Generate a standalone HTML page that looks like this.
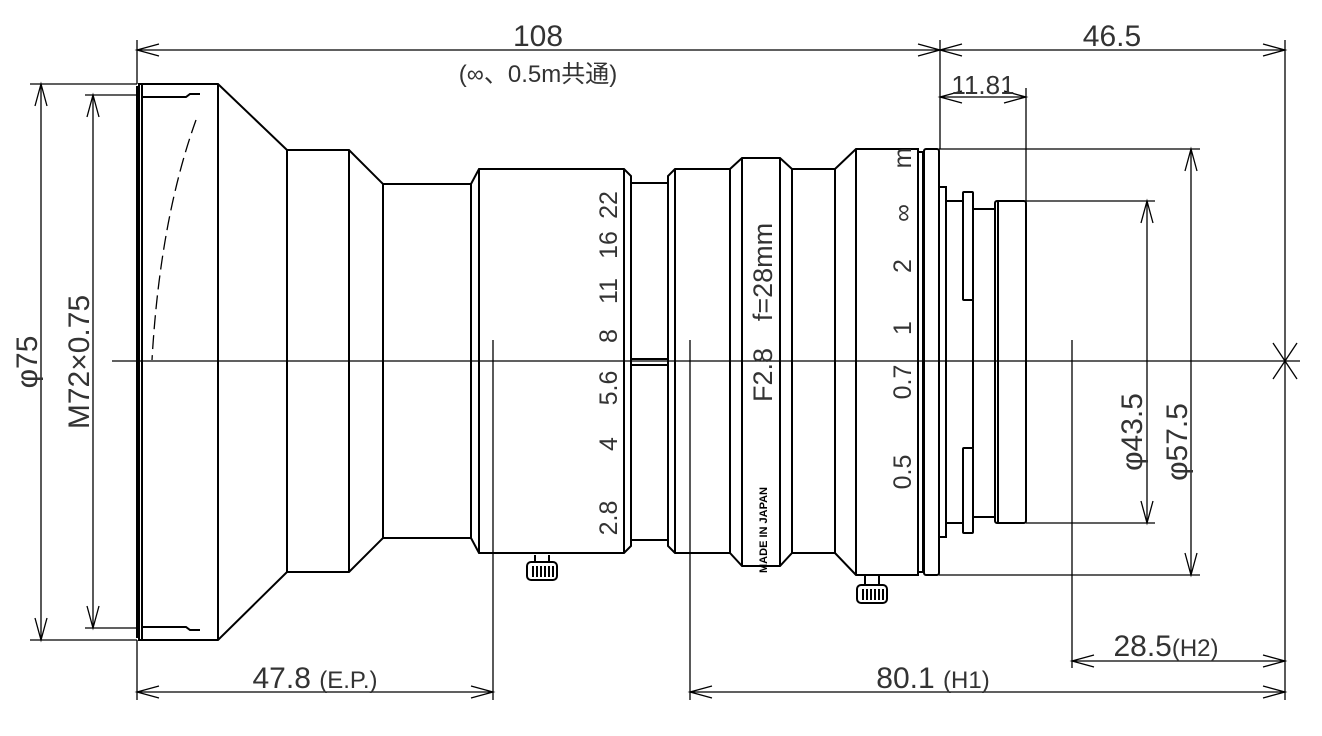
<!DOCTYPE html>
<html><head><meta charset="utf-8"><style>
html,body{margin:0;padding:0;background:#fff;}
svg{display:block}
text{font-family:"Liberation Sans","Noto Sans CJK JP",sans-serif;fill:#333;}
</style></head><body>
<svg width="1322" height="736" viewBox="0 0 1322 736" xmlns="http://www.w3.org/2000/svg">
<g fill="none" stroke="#000" stroke-width="1.3">
<!-- axis -->
<line x1="112" y1="361" x2="1300" y2="361"/>
<!-- dimension lines -->
<line x1="137" y1="50" x2="1285" y2="50"/>
<line x1="137" y1="40" x2="137" y2="84"/>
<line x1="940" y1="40" x2="940" y2="149"/>
<line x1="1285" y1="40" x2="1285" y2="700"/>
<line x1="940" y1="97" x2="1026" y2="97"/>
<line x1="1026" y1="88" x2="1026" y2="201"/>
<line x1="30" y1="84" x2="137" y2="84"/>
<line x1="30" y1="640" x2="137" y2="640"/>
<line x1="41" y1="84" x2="41" y2="640"/>
<line x1="85" y1="95" x2="137" y2="95"/>
<line x1="85" y1="628" x2="137" y2="628"/>
<line x1="93" y1="95" x2="93" y2="628"/>
<line x1="939" y1="149" x2="1200" y2="149"/>
<line x1="939" y1="575" x2="1200" y2="575"/>
<line x1="1191" y1="149" x2="1191" y2="575"/>
<line x1="1026" y1="201" x2="1155" y2="201"/>
<line x1="1026" y1="523" x2="1155" y2="523"/>
<line x1="1147" y1="201" x2="1147" y2="523"/>
<line x1="137" y1="640" x2="137" y2="700"/>
<line x1="137" y1="692" x2="493" y2="692"/>
<line x1="493" y1="340" x2="493" y2="700"/>
<line x1="690" y1="340" x2="690" y2="700"/>
<line x1="690" y1="692" x2="1285" y2="692"/>
<line x1="1072" y1="340" x2="1072" y2="668"/>
<line x1="1072" y1="661" x2="1285" y2="661"/>
<line x1="1273" y1="343" x2="1297" y2="379"/>
<line x1="1297" y1="343" x2="1273" y2="379"/>
<!-- arrowheads -->
<path d="M159 44 L137 50 L159 56 M918 44 L940 50 L918 56 M962 44 L940 50 L962 56 M1263 44 L1285 50 L1263 56"/>
<path d="M962 91 L940 97 L962 103 M1004 91 L1026 97 L1004 103"/>
<path d="M35 106 L41 84 L47 106 M35 618 L41 640 L47 618 M87 117 L93 95 L99 117 M87 606 L93 628 L99 606"/>
<path d="M1185 171 L1191 149 L1197 171 M1185 553 L1191 575 L1197 553 M1141 223 L1147 201 L1153 223 M1141 501 L1147 523 L1153 501"/>
<path d="M159 686 L137 692 L159 698 M471 686 L493 692 L471 698 M712 686 L690 692 L712 698 M1263 686 L1285 692 L1263 698 M1094 655 L1072 661 L1094 667 M1263 655 L1285 661 L1263 667"/>
</g>
<g fill="none" stroke="#000" stroke-width="2">
<!-- hood -->
<path d="M139 84 L218 84 L287 150 L349 150 L383 184 L471 184 L479 169 L624 169 L631 176 L631 183 L668 183 L668 176 L675 169 L730 169 L742 158 L780 158 L792 169 L835 169 L856 149 L918 149 L918 575 L856 575 L835 553 L792 553 L780 566 L742 566 L730 553 L675 553 L668 546 L668 540 L631 540 L631 546 L624 553 L479 553 L471 538 L383 538 L349 572 L287 572 L218 640 L139 640 Z"/>
<path d="M137 86 L137 638 M142 84 L142 640"/>
<path d="M142 97 L186 97 L190 94 L200 94 M142 627 L186 627 L190 630 L200 630"/>
<line x1="218" y1="84" x2="218" y2="640"/>
<line x1="287" y1="150" x2="287" y2="572"/>
<line x1="349" y1="150" x2="349" y2="572"/>
<line x1="383" y1="184" x2="383" y2="538"/>
<line x1="471" y1="184" x2="471" y2="538"/>
<line x1="479" y1="169" x2="479" y2="553"/>
<line x1="624" y1="169" x2="624" y2="553"/>
<line x1="631" y1="183" x2="631" y2="540"/>
<line x1="668" y1="183" x2="668" y2="540"/>
<line x1="675" y1="169" x2="675" y2="553"/>
<line x1="730" y1="169" x2="730" y2="553"/>
<line x1="742" y1="158" x2="742" y2="566"/>
<line x1="780" y1="158" x2="780" y2="566"/>
<line x1="792" y1="169" x2="792" y2="553"/>
<line x1="835" y1="169" x2="835" y2="553"/>
<line x1="856" y1="149" x2="856" y2="575"/>
<path d="M631 359 L668 359 M631 365 L668 365"/>
<!-- mount side -->
<path d="M918 152 L923 152 L923 572 L918 572"/>
<rect x="924" y="149" width="15" height="426" rx="2"/>
<rect x="939" y="187" width="7" height="350"/>
<path d="M946 201 L963 201 M946 523 L963 523"/>
<rect x="963" y="192" width="10" height="108" rx="1"/>
<rect x="963" y="448" width="10" height="85" rx="1"/>
<path d="M973 209 L995 209 M973 517 L995 517"/>
<line x1="973" y1="300" x2="973" y2="448"/>
<rect x="995" y="201" width="31" height="322" rx="2"/>
<line x1="998" y1="201" x2="998" y2="523"/>
<!-- knobs -->
<rect x="527" y="562" width="30" height="18" rx="4"/>
<path d="M535 555 L535 562 M549 555 L549 562 M533 566 V577 M537 566 V577 M541 566 V577 M545 566 V577 M549 566 V577 M553 566 V577"/>
<rect x="857" y="585" width="30" height="18" rx="4"/>
<path d="M865 575 L865 585 M879 575 L879 585 M863 589 V600 M867 589 V600 M871 589 V600 M875 589 V600 M879 589 V600 M883 589 V600"/>
</g>
<path d="M196 120 Q160 220 152 360" fill="none" stroke="#000" stroke-width="1.3" stroke-dasharray="14 6"/>
<!-- text -->
<g font-size="30">
<text x="538" y="46" text-anchor="middle">108</text>
<text x="538" y="82" text-anchor="middle" font-size="24">(∞、0.5m共通)</text>
<text x="1112" y="46" text-anchor="middle">46.5</text>
<text x="983" y="94" text-anchor="middle" font-size="26">11.81</text>
<text x="315" y="688" text-anchor="middle">47.8 <tspan font-size="24">(E.P.)</tspan></text>
<text x="933" y="688" text-anchor="middle">80.1 <tspan font-size="24">(H1)</tspan></text>
<text x="1166" y="656" text-anchor="middle">28.5<tspan font-size="24">(H2)</tspan></text>
<text transform="translate(37,362) rotate(-90)" text-anchor="middle">φ75</text>
<text transform="translate(89,362) rotate(-90)" text-anchor="middle">M72×0.75</text>
<text transform="translate(1142,432) rotate(-90)" text-anchor="middle">φ43.5</text>
<text transform="translate(1187,442) rotate(-90)" text-anchor="middle">φ57.5</text>
</g>
<g font-size="25">
<text transform="translate(617,518) rotate(-90)" text-anchor="middle">2.8</text>
<text transform="translate(617,444) rotate(-90)" text-anchor="middle">4</text>
<text transform="translate(617,388) rotate(-90)" text-anchor="middle">5.6</text>
<text transform="translate(617,336) rotate(-90)" text-anchor="middle">8</text>
<text transform="translate(617,291) rotate(-90)" text-anchor="middle">11</text>
<text transform="translate(617,245) rotate(-90)" text-anchor="middle">16</text>
<text transform="translate(617,205) rotate(-90)" text-anchor="middle">22</text>
<text transform="translate(772,375) rotate(-90)" text-anchor="middle" font-size="27">F2.8</text>
<text transform="translate(772,272) rotate(-90)" text-anchor="middle" font-size="27">f=28mm</text>
<text transform="translate(911,472) rotate(-90)" text-anchor="middle">0.5</text>
<text transform="translate(911,382) rotate(-90)" text-anchor="middle">0.7</text>
<text transform="translate(911,328) rotate(-90)" text-anchor="middle">1</text>
<text transform="translate(911,266) rotate(-90)" text-anchor="middle">2</text>
<text transform="translate(911,213) rotate(-90)" text-anchor="middle">∞</text>
<text transform="translate(911,158) rotate(-90)" text-anchor="middle">m</text>
</g>
<text transform="translate(767,530) rotate(-90)" text-anchor="middle" font-size="11" font-weight="bold" style="fill:#000">MADE IN JAPAN</text>
</svg>
</body></html>
